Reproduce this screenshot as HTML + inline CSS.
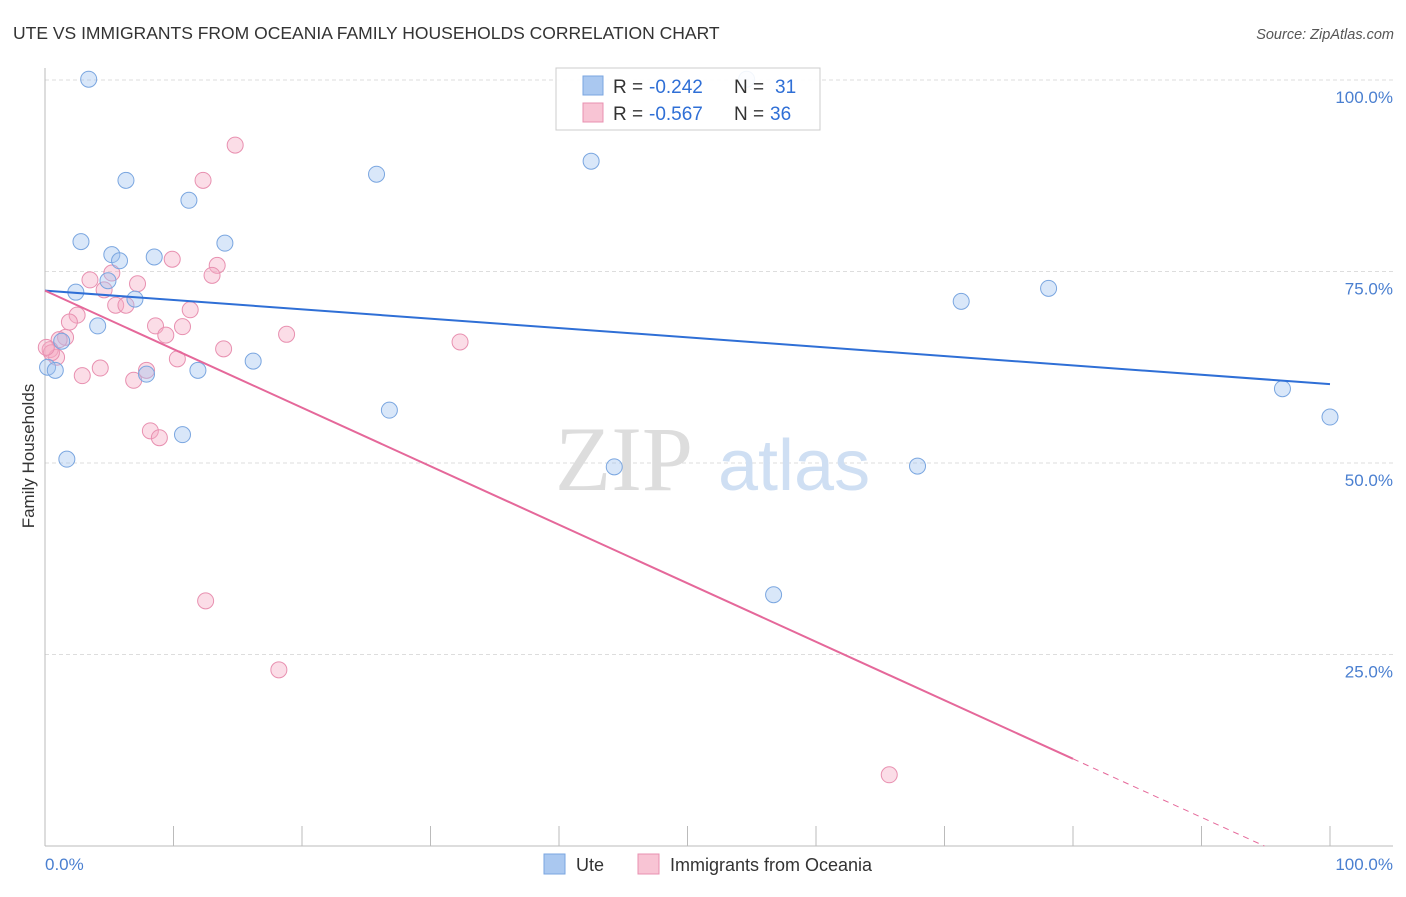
<!DOCTYPE html>
<html><head><meta charset="utf-8"><style>
body{margin:0;background:#fff;font-family:"Liberation Sans",sans-serif}
</style></head><body>
<svg id="chart" width="1406" height="892" xmlns="http://www.w3.org/2000/svg" font-family="Liberation Sans, sans-serif">
<text x="13" y="39" font-size="17.5" fill="#333">UTE VS IMMIGRANTS FROM OCEANIA FAMILY HOUSEHOLDS CORRELATION CHART</text>
<text x="1394" y="39" font-size="14.5" fill="#555" font-style="italic" text-anchor="end">Source: ZipAtlas.com</text>
<g id="grid"></g>
<text x="555" y="490" font-size="92" fill="#ddd" font-family="Liberation Serif, serif">ZIP</text>
<text x="718" y="490" font-size="72" fill="#cfdff3">atlas</text>
<g id="pts"></g>
<g id="lines"></g>
<text transform="translate(34,456) rotate(-90)" font-size="17" fill="#333" text-anchor="middle">Family Households</text>
<g>
<rect x="556" y="68" width="264" height="62" fill="#fff" fill-opacity="0.9" stroke="#ccc"/>
<rect x="583" y="76" width="20" height="19" fill="#aac8f0" stroke="#7aa6e0"/>
<text x="613" y="93" font-size="19" fill="#333">R =</text>
<text x="649" y="93" font-size="19" fill="#2f6fd6">-0.242</text>
<text x="734" y="93" font-size="19" fill="#333">N =</text>
<text x="775" y="93" font-size="19" fill="#2f6fd6">31</text>
<rect x="583" y="103" width="20" height="19" fill="#f8c4d4" stroke="#e890b0"/>
<text x="613" y="120" font-size="19" fill="#333">R =</text>
<text x="649" y="120" font-size="19" fill="#2f6fd6">-0.567</text>
<text x="734" y="120" font-size="19" fill="#333">N =</text>
<text x="770" y="120" font-size="19" fill="#2f6fd6">36</text>
</g>
<g>
<rect x="544" y="854" width="21" height="20" fill="#aac8f0" stroke="#7aa6e0"/>
<text x="576" y="871" font-size="18" fill="#333">Ute</text>
<rect x="638" y="854" width="21" height="20" fill="#f8c4d4" stroke="#e890b0"/>
<text x="670" y="871" font-size="18" fill="#333">Immigrants from Oceania</text>
</g>
<text x="45" y="870" font-size="17" fill="#4a7fd0">0.0%</text>
<text x="1393" y="870" font-size="17" fill="#4a7fd0" text-anchor="end">100.0%</text>
</svg>
<script>
const uteX=[3.4,54.6,6.3,25.8,42.5,11.2,2.8,14.0,5.2,5.8,8.5,4.9,2.4,7.0,4.1,1.3,0.2,0.8,7.9,11.9,16.2,26.8,10.7,1.7,44.3,67.9,71.3,78.1,56.7,96.3,100];
const uteY=[100.1,100.1,86.9,87.7,89.4,84.3,78.9,78.7,77.2,76.4,76.9,73.8,72.3,71.4,67.9,65.9,62.5,62.1,61.6,62.1,63.3,56.9,53.7,50.5,49.5,49.6,71.1,72.8,32.8,59.7,56.0];
const ocX=[14.8,12.3,9.9,13.4,13.0,5.2,3.5,7.2,4.6,5.5,6.3,11.3,2.5,1.9,8.6,10.7,9.4,18.8,1.6,32.3,1.1,13.9,0.4,0.9,10.3,4.3,7.9,2.9,6.9,8.2,8.9,12.5,18.2,65.7,0.5,0.1];
const ocY=[91.5,86.9,76.6,75.8,74.5,74.8,73.9,73.4,72.6,70.6,70.6,70.0,69.3,68.4,67.9,67.8,66.7,66.8,66.4,65.8,66.1,64.9,64.8,63.8,63.6,62.4,62.1,61.4,60.8,54.2,53.3,32.0,23.0,9.3,64.4,65.1];
const yTicks=[25,50,75,100];
const yTickLabels=["25.0%","50.0%","75.0%","100.0%"];
const xTicks=[0,10,20,30,40,50,60,70,80,90,100];
const uteTrend=[72.5,60.3];
const ocTrend=[72.5,-3.9];
const ocSolidEnd=80;
const sx=v=>45+v*12.85, sy=v=>846-v*7.66;
const NS="http://www.w3.org/2000/svg";
function mk(t,a,p){const e=document.createElementNS(NS,t);for(const k in a)e.setAttribute(k,a[k]);p.appendChild(e);return e;}
const g=document.getElementById('grid');
yTicks.forEach((t,i)=>{
 const l=mk('line',{x1:45,x2:1393,y1:sy(t),y2:sy(t),stroke:'#ddd','stroke-dasharray':'4,3'},g);
 
 
 const tx=mk('text',{x:1393,y:sy(t)+23,'font-size':17,fill:'#4a7fd0','text-anchor':'end'},g);
 tx.textContent=yTickLabels[i];
 
 
});
const ax=mk('line',{x1:45,x2:45,y1:68,y2:846,stroke:'#bbb'},g);


const bx=mk('line',{x1:45,x2:1393,y1:846,y2:846,stroke:'#bbb'},g);


xTicks.forEach(t=>{
 const l=mk('line',{x1:sx(t),x2:sx(t),y1:826,y2:846,stroke:'#bbb'},g);
 
 
});
const p=document.getElementById('pts');
ocX.forEach((x,i)=>{
 const c=mk('circle',{cx:sx(x),cy:sy(ocY[i]),r:8,fill:'rgba(245,170,196,0.4)',stroke:'#e890b0','stroke-width':1},p);
 
 
});
uteX.forEach((x,i)=>{
 const c=mk('circle',{cx:sx(x),cy:sy(uteY[i]),r:8,fill:'rgba(160,195,240,0.4)',stroke:'#7aa6e0','stroke-width':1},p);
 
 
});
const L=document.getElementById('lines');
const b=mk('line',{x1:sx(0),y1:sy(uteTrend[0]),x2:sx(100),y2:sy(uteTrend[1]),stroke:'#2f6fd6','stroke-width':2},L);


const oy=x=>ocTrend[0]+(ocTrend[1]-ocTrend[0])*x/100;
const o=mk('line',{x1:sx(0),y1:sy(oy(0)),x2:sx(ocSolidEnd),y2:sy(oy(ocSolidEnd)),stroke:'#e5689a','stroke-width':2},L);


const xz=-ocTrend[0]/(ocTrend[1]-ocTrend[0])*100;
const od=mk('line',{x1:sx(ocSolidEnd),y1:sy(oy(ocSolidEnd)),x2:sx(xz),y2:sy(0),stroke:'#e5689a','stroke-width':1,'stroke-dasharray':'6,5'},L);


</script>
</body></html>
